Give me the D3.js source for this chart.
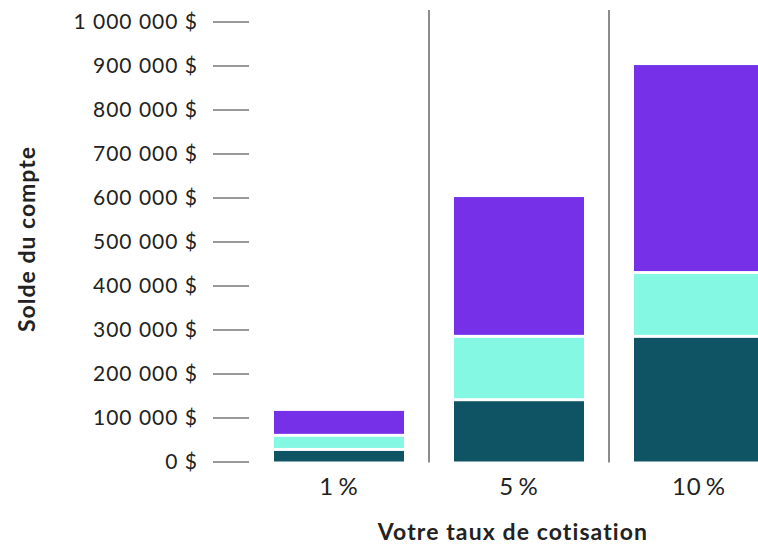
<!DOCTYPE html>
<html><head><meta charset="utf-8">
<script src="https://cdn.jsdelivr.net/npm/d3@7"></script>
<style>
html,body{margin:0;padding:0;background:#fff;}
svg{display:block;}
</style></head>
<body>
<svg id="chart" width="758" height="545"></svg>
<script>
const categories = ["1 %", "5 %", "10 %"];
const seriesNames = ["Base", "Milieu", "Haut"];
const baseValues = [24000, 137000, 281000];
const middleValues = [32000, 144000, 145000];
const topValues = [59000, 320000, 475000];
const yTicks = [0, 100000, 200000, 300000, 400000, 500000, 600000, 700000, 800000, 900000, 1000000];
const colors = ["#0F5465", "#84F8E2", "#7631E8"];

const svg = d3.select("#chart");
const font = "Lato, 'Noto Sans', sans-serif";
const textColor = "#222222";

const y = d3.scaleLinear().domain([0, 1000000]).range([461.5, 21.5]);
const x = d3.scaleBand().domain(categories).range([249, 789]).paddingInner(50/180).paddingOuter(25/180);

const fmt = v => d3.format(",")(v).replace(/,/g, " ") + " $";

// y axis
const yAxis = svg.append("g").attr("transform", "translate(249,0)")
  .call(d3.axisLeft(y).tickValues(yTicks).tickSize(36).tickPadding(16).tickFormat(fmt));
yAxis.select(".domain").remove();
yAxis.selectAll(".tick line").attr("stroke", "#333").attr("stroke-width", 1.2);
yAxis.selectAll(".tick text").attr("fill", textColor).style("font-family", font)
  .style("font-size", "21px").style("letter-spacing", "1px").attr("dx", "1px");

// separators
const seps = categories.slice(1);
svg.selectAll("line.sep").data(seps).enter().append("line")
  .attr("class", "sep")
  .attr("x1", d => x(d) - x.step()*x.paddingInner()/2)
  .attr("x2", d => x(d) - x.step()*x.paddingInner()/2)
  .attr("y1", 10).attr("y2", 462.5)
  .attr("stroke", "#666").attr("stroke-width", 1.5);

// stacked data
const rows = categories.map((c, i) => ({cat: c, Base: baseValues[i], Milieu: middleValues[i], Haut: topValues[i]}));
const stacked = d3.stack().keys(seriesNames)(rows);
const gap = 3;
svg.selectAll("g.series").data(stacked).enter().append("g")
  .attr("class", "series")
  .attr("fill", (d, i) => colors[i])
  .selectAll("rect").data((d, i) => d.map(p => ({p, i}))).enter().append("rect")
  .attr("x", d => x(d.p.data.cat))
  .attr("width", x.bandwidth())
  .attr("y", d => y(d.p[1]))
  .attr("height", d => Math.max(0, y(d.p[0]) - y(d.p[1]) - (d.i === 0 ? 0 : gap)));

// x labels
const xAxis = svg.append("g").attr("transform", "translate(0,462)")
  .call(d3.axisBottom(x).tickSize(0).tickPadding(16));
xAxis.select(".domain").remove();
xAxis.selectAll(".tick text").attr("fill", textColor).style("font-family", font)
  .style("font-size", "24px").style("letter-spacing", "1px").style("word-spacing", "-3px");

// axis titles
svg.append("text").attr("x", 513).attr("y", 540).attr("text-anchor", "middle")
  .attr("fill", textColor).style("font-family", font).style("font-size", "23px").style("font-weight", "bold")
  .style("letter-spacing", "1.1px")
  .text("Votre taux de cotisation");
svg.append("text").attr("transform", "translate(35,239) rotate(-90)").attr("text-anchor", "middle")
  .attr("fill", textColor).style("font-family", font).style("font-size", "23px").style("font-weight", "bold")
  .style("letter-spacing", "1px")
  .text("Solde du compte");
</script>
</body></html>
